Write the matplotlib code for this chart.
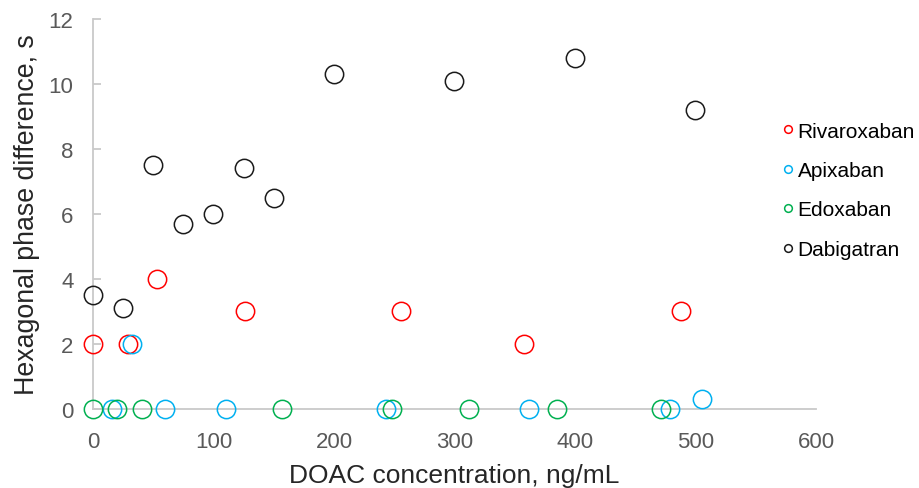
import matplotlib.pyplot as plt

plt.rcParams['font.family'] = ['Liberation Sans', 'DejaVu Sans']

# DOAC concentration (ng/mL) and hexagonal phase difference (s)
riva_x = [0, 29, 53, 126, 256, 358, 488]
riva_y = [2, 2, 4, 3, 3, 2, 3]

apix_x = [32, 16, 60, 110, 243, 362, 479, 505]
apix_y = [2, 0, 0, 0, 0, 0, 0, 0.3]

edox_x = [0, 20, 41, 157, 248, 312, 385, 471]
edox_y = [0, 0, 0, 0, 0, 0, 0, 0]

dabi_x = [0, 25, 50, 75, 100, 125, 150, 200, 300, 400, 500]
dabi_y = [3.5, 3.1, 7.5, 5.7, 6.0, 7.4, 6.5, 10.3, 10.1, 10.8, 9.2]

series = [
    ('Rivaroxaban', riva_x, riva_y, '#FF0000'),
    ('Apixaban', apix_x, apix_y, '#00B0F0'),
    ('Edoxaban', edox_x, edox_y, '#00B050'),
    ('Dabigatran', dabi_x, dabi_y, '#1A1A1A'),
]

fig = plt.figure(figsize=(9.19, 4.89), dpi=100)
ax = fig.add_axes([0.1012, 0.1616, 0.7867, 0.7975])

for name, xs, ys, col in series:
    ax.plot(xs, ys, linestyle='none', marker='o', markersize=13.2,
            markerfacecolor='none', markeredgecolor=col,
            markeredgewidth=1.1, label=name, clip_on=False, zorder=3)

ax.set_xlim(0, 600)
ax.set_ylim(0, 12)
ax.set_xticks(range(0, 601, 100))
ax.set_yticks(range(0, 13, 2))

for side in ['top', 'right']:
    ax.spines[side].set_visible(False)
for side in ['left', 'bottom']:
    ax.spines[side].set_color('#C9C9C9')
    ax.spines[side].set_linewidth(1.3)

ax.tick_params(axis='y', direction='in', length=6, width=1.3,
               color='#C9C9C9', pad=14, labelsize=16, labelcolor='#595959')
ax.tick_params(axis='x', length=0, pad=16, labelsize=16,
               labelcolor='#595959')

ax.set_xlabel('DOAC concentration, ng/mL', fontsize=19,
              color='#262626', labelpad=8)
ax.set_ylabel('Hexagonal phase difference, s', fontsize=19.3,
              color='#262626', labelpad=6)

fig.legend(loc='center left', bbox_to_anchor=(0.852, 0.609),
           frameon=False, fontsize=15, markerscale=0.42,
           handlelength=0.5, handletextpad=0.2, labelspacing=0.98,
           borderpad=0, borderaxespad=0)

fig.savefig('out.png', dpi=100)
